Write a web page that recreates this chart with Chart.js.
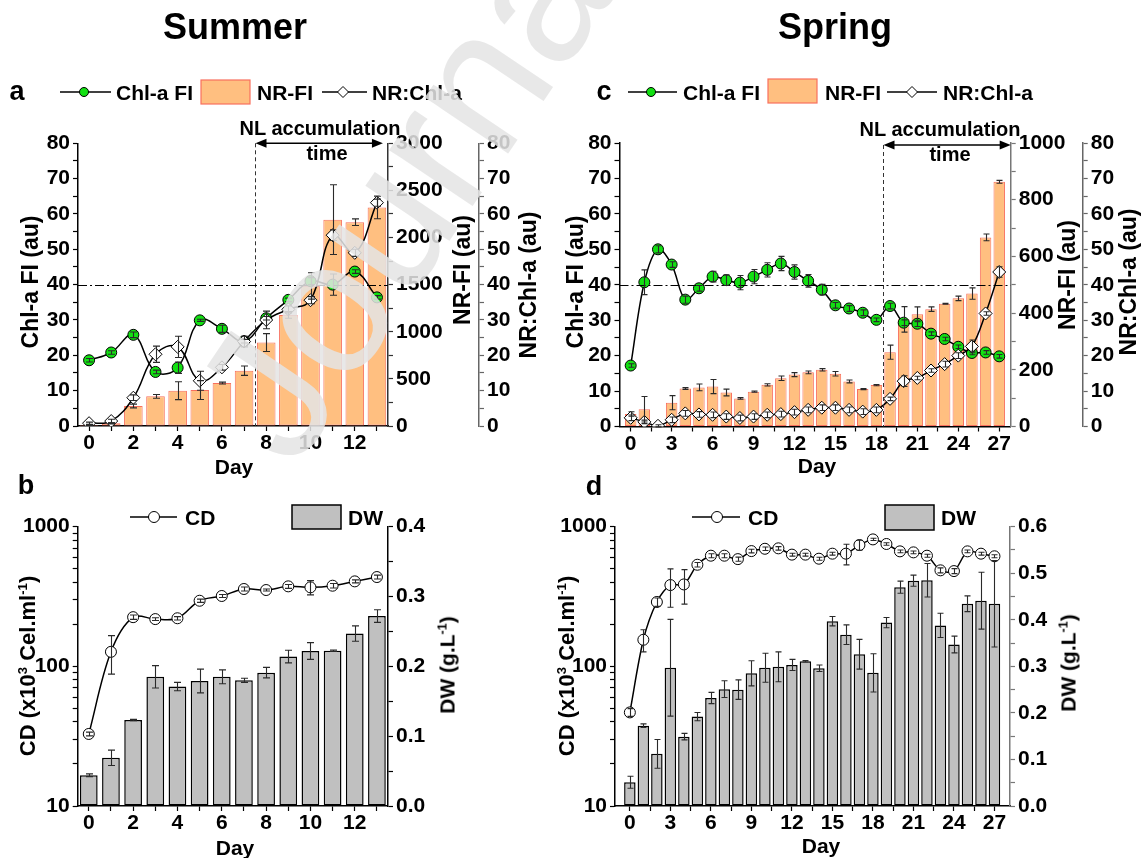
<!DOCTYPE html>
<html><head><meta charset="utf-8">
<script src="https://cdn.jsdelivr.net/npm/chart.js@4.4.1/dist/chart.umd.min.js"></script>
<style>
html,body{margin:0;padding:0;background:#fff;}
#wrap{position:relative;width:1143px;height:858px;overflow:hidden;font-family:"Liberation Sans",Arial,sans-serif;}
canvas{position:absolute;left:0;top:0;}
.t{position:absolute;font-weight:bold;color:#000;white-space:nowrap;line-height:1;transform:translate(-50%,-50%);}
.r{transform:translate(-50%,-50%) rotate(-90deg);}
.l{position:absolute;font-weight:bold;color:#000;white-space:nowrap;line-height:1;transform:translate(0,-50%);font-size:21px;}
sup{font-size:0.6em;vertical-align:0.6em;line-height:0;}
#wm{position:absolute;left:294px;top:310px;font-size:190px;line-height:1;font-family:"Liberation Sans",Arial,sans-serif;color:rgba(228,228,228,0.86);transform-origin:0px 161px;transform:rotate(-56deg);white-space:nowrap;pointer-events:none;}
</style></head><body>
<div id="wrap">
<canvas id="cA" width="1143" height="858"></canvas>
<canvas id="cB" width="1143" height="858"></canvas>
<canvas id="cC" width="1143" height="858"></canvas>
<canvas id="cD" width="1143" height="858"></canvas>

<div class="t" style="left:235px;top:27px;font-size:36px">Summer</div>
<div class="t" style="left:835px;top:27px;font-size:36px">Spring</div>
<div class="t" style="left:17px;top:91px;font-size:27px">a</div>
<div class="t" style="left:26px;top:485px;font-size:27px">b</div>
<div class="t" style="left:604px;top:91px;font-size:27px">c</div>
<div class="t" style="left:594px;top:486px;font-size:27px">d</div>

<div class="l" style="left:116px;top:92px">Chl-a FI</div>
<div class="l" style="left:257px;top:92px">NR-FI</div>
<div class="l" style="left:372px;top:92px">NR:Chl-a</div>
<div class="l" style="left:683px;top:92px">Chl-a FI</div>
<div class="l" style="left:825px;top:92px">NR-FI</div>
<div class="l" style="left:943px;top:92px">NR:Chl-a</div>
<div class="l" style="left:185px;top:517px">CD</div>
<div class="l" style="left:348px;top:517px">DW</div>
<div class="l" style="left:748px;top:517px">CD</div>
<div class="l" style="left:941px;top:517px">DW</div>

<div class="t" style="left:320px;top:128px;font-size:20px">NL accumulation</div>
<div class="t" style="left:327px;top:153px;font-size:20px">time</div>
<div class="t" style="left:940px;top:129px;font-size:20px">NL accumulation</div>
<div class="t" style="left:950px;top:154px;font-size:20px">time</div>

<div class="t r" style="left:30px;top:282px;font-size:23px">Chl-a FI (au)</div>
<div class="t r" style="left:462px;top:270px;font-size:23px">NR-FI (au)</div>
<div class="t r" style="left:528px;top:285px;font-size:23px">NR:Chl-a (au)</div>
<div class="t" style="left:234px;top:466px;font-size:21px">Day</div>

<div class="t r" style="left:575px;top:282px;font-size:23px">Chl-a FI (au)</div>
<div class="t r" style="left:1067px;top:275px;font-size:23px">NR-FI (au)</div>
<div class="t r" style="left:1128px;top:282px;font-size:23px">NR:Chl-a (au)</div>
<div class="t" style="left:817px;top:465px;font-size:21px">Day</div>

<div class="t r" style="left:28px;top:666px;font-size:22px">CD (x10<sup>3</sup> Cel.ml<sup>-1</sup>)</div>
<div class="t r" style="left:447px;top:665px;font-size:21px">DW (g.L<sup>-1</sup>)</div>
<div class="t" style="left:235px;top:847px;font-size:21px">Day</div>

<div class="t r" style="left:567px;top:666px;font-size:22px">CD (x10<sup>3</sup> Cel.ml<sup>-1</sup>)</div>
<div class="t r" style="left:1068px;top:663px;font-size:21px">DW (g.L<sup>-1</sup>)</div>
<div class="t" style="left:821px;top:845px;font-size:21px">Day</div>

<div id="wm">Journal</div>
</div>
<script>
// ---------------- DATA ----------------
const daysA = [0,1,2,3,4,5,6,7,8,9,10,11,12,13];
const chlA = [18.6, 20.8, 25.8, 15.3, 16.5, 29.9, 27.5, 24.0, 30.5, 35.7, 41.0, 40.0, 43.7, 36.4];
const chlAErr = [0.5, 0.5, 0.8, 0.5, 1.6, 0.3, 1.0, 0.5, 0.5, 0.5, 1.0, 3.0, 0.5, 0.5];
const nrChlA = [0.8, 1.4, 8.0, 20.3, 22.4, 12.8, 16.6, 23.9, 30.0, 33.0, 35.6, 54.0, 49.0, 63.2];
const nrChlAErr = [0.3, 0.5, 0.8, 2.3, 3.0, 2.7, 0.8, 1.5, 2.5, 1.0, 1.0, 1.5, 1.0, 1.0];
const nrFiA = [10, 28, 212, 315, 375, 382, 456, 587, 885, 1179, 1486, 2190, 2163, 2319];
const nrFiAErr = [5, 5, 20, 20, 95, 100, 10, 50, 95, 35, 140, 370, 35, 120];

const daysC = [0,1,2,3,4,5,6,7,8,9,10,11,12,13,14,15,16,17,18,19,20,21,22,23,24,25,26,27];
const chlC = [17.2, 40.7, 50.0, 45.7, 35.8, 39.0, 42.3, 41.3, 40.6, 42.3, 44.2, 46.0, 43.6, 41.1, 38.6, 34.2, 33.3, 32.1, 30.1, 34.0, 29.3, 29.0, 26.2, 24.7, 22.5, 20.75, 20.9, 19.8];
const chlCErr = [0.5, 3.5, 1.0, 0.8, 1.0, 0.8, 1.5, 1.5, 2.0, 2.0, 2.0, 2.0, 2.0, 1.8, 1.5, 0.8, 0.8, 0.8, 0.5, 0.8, 0.8, 0.8, 0.5, 0.5, 0.5, 0.5, 0.5, 0.5];
const nrChlC = [2.45, 1.3, 0.2, 1.9, 3.7, 3.4, 3.3, 2.8, 2.4, 2.8, 3.3, 3.5, 4.05, 4.7, 5.3, 5.3, 4.7, 4.2, 4.7, 7.8, 12.8, 13.7, 15.8, 17.6, 20.0, 22.6, 31.9, 43.6];
const nrChlCErr = [0.8, 0.5, 0.3, 0.8, 0.8, 0.8, 0.8, 0.8, 0.8, 0.8, 0.8, 0.8, 0.8, 0.8, 0.8, 0.8, 0.8, 0.8, 0.8, 0.5, 1.5, 0.5, 0.5, 0.8, 0.8, 1.8, 0.5, 1.5];
const nrFiC = [44, 61, 0, 84, 134, 138, 141, 120, 99, 123, 147, 170, 183, 191, 200, 186, 159, 132, 146, 262, 378, 396, 414, 433, 452, 469, 667, 863];
const nrFiCErr = [8, 45, 0, 25, 3, 12, 25, 12, 3, 2, 4, 8, 7, 5, 4, 8, 5, 2, 2, 25, 45, 26, 8, 2, 8, 20, 12, 5];

const daysB = [0,1,2,3,4,5,6,7,8,9,10,11,12,13];
const cdB = [32.8, 127, 225, 218, 221, 295, 319, 358, 352, 374, 368, 378, 406, 436];
const cdBErr = [1, 39, 8, 5, 6, 8, 8, 12, 6, 12, 43, 14, 10, 14];
const dwB = [0.044, 0.069, 0.123, 0.185, 0.171, 0.179, 0.185, 0.180, 0.191, 0.214, 0.222, 0.2225, 0.247, 0.272];
const dwBErr = [0.002, 0.011, 0.001, 0.016, 0.006, 0.017, 0.01, 0.003, 0.0075, 0.009, 0.012, 0.001, 0.011, 0.009];

const daysD = [0,1,2,3,4,5,6,7,8,9,10,11,12,13,14,15,16,17,18,19,20,21,22,23,24,25,26,27];
const cdD = [46.8, 155, 289, 382, 386, 534, 620, 620, 586, 669, 695, 700, 631, 631, 590, 641, 641, 739, 811, 752, 666, 655, 620, 487, 481, 666, 641, 614];
const cdDErr = [3, 28, 20, 117, 107, 20, 20, 20, 20, 20, 20, 20, 15, 15, 15, 15, 108, 60, 15, 15, 15, 15, 15, 20, 20, 15, 15, 15];
const dwD = [0.051, 0.1725, 0.112, 0.297, 0.149, 0.192, 0.232, 0.251, 0.250, 0.285, 0.297, 0.299, 0.303, 0.311, 0.296, 0.397, 0.368, 0.326, 0.286, 0.394, 0.470, 0.484, 0.485, 0.388, 0.347, 0.4345, 0.441, 0.4345];
const dwDErr = [0.013, 0.004, 0.031, 0.104, 0.007, 0.009, 0.012, 0.018, 0.021, 0.027, 0.031, 0.032, 0.012, 0.0015, 0.007, 0.010, 0.021, 0.032, 0.041, 0.011, 0.013, 0.012, 0.036, 0.026, 0.018, 0.017, 0.061, 0.093];

// ---------------- STYLE ----------------
const FONT = "'Liberation Sans', Arial, sans-serif";
const tickFont = {family: FONT, size: 21, weight: 'bold'};
const GREEN = '#12E012', ORANGE = '#FFBF80', ORANGE_EDGE = '#F8705E', GRAY = '#C0C0C0';

function pts(xs, ys){ return xs.map((x,i)=>({x:x, y:ys[i]})); }
function isMult(v,m){ const r=v/m; return Math.abs(r-Math.round(r))<1e-6; }
function stepTicks(min,max,step){
  const t=[]; const k0=Math.ceil(min/step-1e-9), k1=Math.floor(max/step+1e-9);
  for(let k=k0;k<=k1;k++){ t.push({value: Math.round(k*step*1e6)/1e6}); }
  return t;
}

function axisX(min,max,step,every){
  return {type:'linear', min:min, max:max, offset:false,
    grid:{display:true, offset:false, drawOnChartArea:false, drawTicks:true, tickLength:5, color:'#000', tickWidth:1.2},
    border:{display:true, color:'#000', width:1.5},
    afterBuildTicks:(s)=>{ s.ticks = stepTicks(min,max,step); },
    ticks:{autoSkip:false, maxRotation:0, minRotation:0, padding:0, font:tickFont, color:'#000',
      callback:(v)=> isMult(v,every) ? String(Math.round(v)) : ''},
    afterFit:(s)=>{ s.height = 30; }};
}
function axisY(pos,min,max,step,every,width,color,weight,fmt){
  return {type:'linear', position:pos, min:min, max:max, weight:weight,
    grid:{display:true, drawOnChartArea:false, drawTicks:true, tickLength:5, color:color, tickWidth:1.2},
    border:{display:true, color:color, width:1.5},
    afterBuildTicks:(s)=>{ s.ticks = stepTicks(min,max,step); },
    ticks:{autoSkip:false, padding:3, font:tickFont, color:'#000',
      callback:(v)=> isMult(v,every) ? fmt(v) : ''},
    afterFit:(s)=>{ s.width = width; }};
}
function axisLog(width){
  return {type:'logarithmic', position:'left', min:10, max:1000, weight:0,
    grid:{display:true, drawOnChartArea:false, drawTicks:true, tickLength:5, color:'#000', tickWidth:1.2},
    border:{display:true, color:'#000', width:1.5},
    afterBuildTicks:(s)=>{ const t=[]; for(let e=1;e<3;e++){ for(let k=1;k<10;k++){ t.push({value:k*Math.pow(10,e)}); } } t.push({value:1000}); s.ticks=t; },
    ticks:{autoSkip:false, padding:3, font:tickFont, color:'#000',
      callback:(v)=> (v===10||v===100||v===1000) ? String(v) : ''},
    afterFit:(s)=>{ s.width = width; }};
}
const intFmt = (v)=>String(Math.round(v));
const decFmt = (v)=>v.toFixed(1);

function lineDS(label, xs, ys, errs, axis, order, style, radius, fill, tension, cap){
  return {type:'line', label:label, data:pts(xs,ys), errors:errs, errCap:cap, yAxisID:axis, order:order,
    borderColor:'#000', borderWidth:1.5, tension:tension, fill:false,
    pointStyle:style, pointRadius:radius, pointBackgroundColor:fill, pointBorderColor:'#000', pointBorderWidth:1};
}
function barDS(label, xs, ys, errs, axis, fill, edge, bw, pct, cap){
  return {type:'bar', label:label, data:pts(xs,ys), errors:errs, errCap:cap, yAxisID:axis, order:5,
    backgroundColor:fill, borderColor:edge, borderWidth:bw, borderSkipped:false, categoryPercentage:1, barPercentage:pct};
}

// ---------------- PLUGINS ----------------
const errPlugin = {
  id:'errbars',
  afterDatasetsDraw(chart){
    const ctx = chart.ctx;
    chart.data.datasets.forEach((ds,di)=>{
      if(!ds.errors) return;
      const meta = chart.getDatasetMeta(di);
      const ys = chart.scales[ds.yAxisID];
      const cap = ds.errCap || 3;
      ctx.save();
      ctx.strokeStyle = '#2a2a2a'; ctx.lineWidth = 1.1;
      meta.data.forEach((el,i)=>{
        const e = ds.errors[i]; if(!e) return;
        const v = ds.data[i].y;
        const x = Math.round(el.x)+0.5;
        const yt = ys.getPixelForValue(v+e), yb = ys.getPixelForValue(v-e);
        ctx.beginPath();
        ctx.moveTo(x,yt); ctx.lineTo(x,yb);
        ctx.moveTo(x-cap,yt); ctx.lineTo(x+cap,yt);
        ctx.moveTo(x-cap,yb); ctx.lineTo(x+cap,yb);
        ctx.stroke();
      });
      ctx.restore();
    });
  }
};
const legPlugin = {
  id:'legsym',
  afterDraw(chart,args,o){
    const ctx = chart.ctx;
    (o.items||[]).forEach(it=>{
      ctx.save();
      if(it.kind==='line'){
        ctx.strokeStyle='#000'; ctx.lineWidth=1.5;
        ctx.beginPath(); ctx.moveTo(it.x1,it.y); ctx.lineTo(it.x2,it.y); ctx.stroke();
        ctx.fillStyle=it.fill; ctx.strokeStyle='#000'; ctx.lineWidth=1;
        Chart.helpers.drawPoint(ctx,{pointStyle:it.style, radius:it.r, rotation:0, borderWidth:1}, it.cx, it.y);
      } else {
        ctx.fillStyle=it.fill; ctx.fillRect(it.x1,it.y1,it.x2-it.x1,it.y2-it.y1);
        ctx.strokeStyle=it.edge; ctx.lineWidth=it.bw; ctx.strokeRect(it.x1,it.y1,it.x2-it.x1,it.y2-it.y1);
      }
      ctx.restore();
    });
  }
};
const nlPlugin = {
  id:'nl',
  afterDatasetsDraw(chart,args,o){
    if(!o || o.x==null) return;
    const ctx = chart.ctx, ca = chart.chartArea, sc = chart.scales;
    const x = Math.round(sc.x.getPixelForValue(o.x))+0.5;
    const yh = Math.round(sc.y.getPixelForValue(o.y))+0.5;
    const xe = sc.x.getPixelForValue(o.xEnd);
    const ya = ca.top + o.dy;
    ctx.save();
    ctx.strokeStyle='#333'; ctx.lineWidth=1;
    ctx.setLineDash([4,3]);
    ctx.beginPath(); ctx.moveTo(x,ya); ctx.lineTo(x,ca.bottom); ctx.stroke();
    ctx.strokeStyle='#000'; ctx.setLineDash([9,3,2,3]);
    ctx.beginPath(); ctx.moveTo(ca.left,yh); ctx.lineTo(ca.right,yh); ctx.stroke();
    ctx.setLineDash([]); ctx.lineWidth=1.5;
    ctx.beginPath(); ctx.moveTo(x+6,ya); ctx.lineTo(xe-6,ya); ctx.stroke();
    ctx.fillStyle='#000';
    ctx.beginPath(); ctx.moveTo(x,ya); ctx.lineTo(x+11,ya-4.5); ctx.lineTo(x+11,ya+4.5); ctx.closePath(); ctx.fill();
    ctx.beginPath(); ctx.moveTo(xe,ya); ctx.lineTo(xe-11,ya-4.5); ctx.lineTo(xe-11,ya+4.5); ctx.closePath(); ctx.fill();
    ctx.restore();
  }
};

Chart.defaults.font.family = FONT;
const common = (pad, extra)=>({
  responsive:false, animation:false, events:[],
  layout:{padding:pad},
  plugins:Object.assign({legend:{display:false}, tooltip:{enabled:false}}, extra)
});

// ---------------- PANEL A ----------------
new Chart(document.getElementById('cA'), {
  type:'bar',
  data:{datasets:[
    lineDS('NR:Chl-a', daysA, nrChlA, nrChlAErr, 'yR', 0, 'rectRot', 6.5, '#fff', 0.4, 3.5),
    lineDS('Chl-a FI', daysA, chlA, chlAErr, 'y', 1, 'circle', 5.5, GREEN, 0.4, 3.5),
    barDS('NR-FI', daysA, nrFiA, nrFiAErr, 'yNR', ORANGE, ORANGE_EDGE, 1, 0.84, 3.5)
  ]},
  options:Object.assign(common({left:0,right:583,top:143.3,bottom:402},{
    nl:{x:7.5, y:40, xEnd:13.27, dy:0},
    legsym:{items:[
      {kind:'line', x1:60, x2:111, y:92, cx:84, style:'circle', r:4.5, fill:GREEN},
      {kind:'box', x1:201, y1:80, x2:250, y2:104, fill:ORANGE, edge:ORANGE_EDGE, bw:1.2},
      {kind:'line', x1:322, x2:367, y:92, cx:343, style:'rectRot', r:5.5, fill:'#fff'}
    ]}
  }), {scales:{
    x: axisX(-0.5, 13.5, 1, 2),
    y: axisY('left', 0, 80, 5, 10, 78, '#000', 0, intFmt),
    yNR: axisY('right', 0, 3000, 250, 500, 91, '#333', 1, intFmt),
    yR: axisY('right', 0, 80, 5, 10, 81, '#666', 2, intFmt)
  }}),
  plugins:[nlPlugin, errPlugin, legPlugin]
});

// ---------------- PANEL C ----------------
new Chart(document.getElementById('cC'), {
  type:'bar',
  data:{datasets:[
    lineDS('NR:Chl-a', daysC, nrChlC, nrChlCErr, 'yR', 0, 'rectRot', 6.5, '#fff', 0.35, 3),
    lineDS('Chl-a FI', daysC, chlC, chlCErr, 'y', 1, 'circle', 5.5, GREEN, 0.35, 3),
    barDS('NR-FI', daysC, nrFiC, nrFiCErr, 'yNR', ORANGE, ORANGE_EDGE, 1, 0.84, 3)
  ]},
  options:Object.assign(common({left:560,right:0,top:143,bottom:401.5},{
    nl:{x:18.5, y:40, xEnd:27.84, dy:2},
    legsym:{items:[
      {kind:'line', x1:628, x2:677, y:92, cx:651, style:'circle', r:4.5, fill:GREEN},
      {kind:'box', x1:768, y1:79, x2:817, y2:103, fill:ORANGE, edge:ORANGE_EDGE, bw:1.2},
      {kind:'line', x1:887, x2:937, y:92, cx:912, style:'rectRot', r:5.5, fill:'#fff'}
    ]}
  }), {scales:{
    x: axisX(-0.82, 27.84, 1.5, 3),
    y: axisY('left', 0, 80, 5, 10, 59.5, '#000', 0, intFmt),
    yNR: axisY('right', 0, 1000, 100, 200, 72, '#777', 1, intFmt),
    yR: axisY('right', 0, 80, 5, 10, 60.3, '#666', 2, intFmt)
  }}),
  plugins:[nlPlugin, errPlugin, legPlugin]
});

// ---------------- PANEL B ----------------
new Chart(document.getElementById('cB'), {
  type:'bar',
  data:{datasets:[
    lineDS('CD', daysB, cdB, cdBErr, 'y', 0, 'circle', 5.5, '#fff', 0.35, 3.5),
    barDS('DW', daysB, dwB, dwBErr, 'yDW', GRAY, '#000', 1.5, 0.8, 3.5)
  ]},
  options:Object.assign(common({left:0,right:583,top:526.7,bottom:22},{
    legsym:{items:[
      {kind:'line', x1:130, x2:177, y:517, cx:154, style:'circle', r:5.5, fill:'#fff'},
      {kind:'box', x1:292, y1:505, x2:341, y2:529, fill:GRAY, edge:'#000', bw:1.5}
    ]}
  }), {scales:{
    x: axisX(-0.5, 13.5, 1, 2),
    y: axisLog(77.7),
    yDW: axisY('right', 0, 0.4, 0.05, 0.1, 172, '#000', 1, decFmt)
  }}),
  plugins:[errPlugin, legPlugin]
});

// ---------------- PANEL D ----------------
new Chart(document.getElementById('cD'), {
  type:'bar',
  data:{datasets:[
    lineDS('CD', daysD, cdD, cdDErr, 'y', 0, 'circle', 5.5, '#fff', 0.3, 3),
    barDS('DW', daysD, dwD, dwDErr, 'yDW', GRAY, '#000', 1.5, 0.85, 3)
  ]},
  options:Object.assign(common({left:560,right:0,top:526.7,bottom:22},{
    legsym:{items:[
      {kind:'line', x1:692, x2:740, y:517, cx:717, style:'circle', r:5.5, fill:'#fff'},
      {kind:'box', x1:885, y1:505, x2:934, y2:530, fill:GRAY, edge:'#000', bw:1.5}
    ]}
  }), {scales:{
    x: axisX(-1.1, 28.15, 1.5, 3),
    y: axisLog(55),
    yDW: axisY('right', 0, 0.6, 0.05, 0.1, 133, '#777', 1, decFmt)
  }}),
  plugins:[errPlugin, legPlugin]
});
</script>
</body></html>
